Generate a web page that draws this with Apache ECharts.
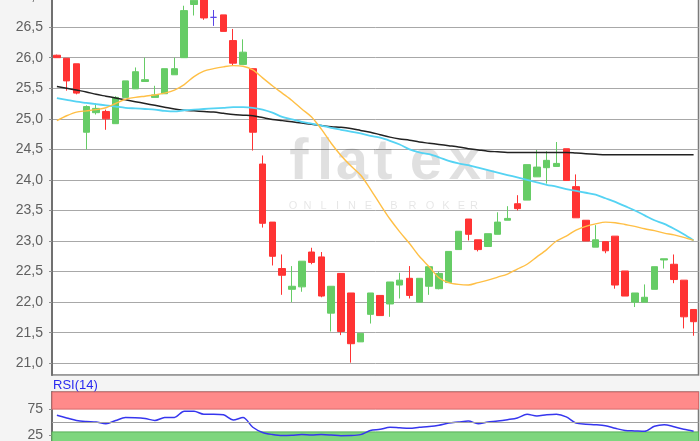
<!DOCTYPE html>
<html><head><meta charset="utf-8">
<script src="https://cdn.jsdelivr.net/npm/echarts@6/dist/echarts.min.js"></script>
<style>html,body{margin:0;padding:0;background:#f4f4f4}#c{width:700px;height:441px}</style>
</head><body><div id="c"></div>
<script>
const categories = ['1','2','3','4','5','6','7','8','9','10','11','12','13','14','15','16','17','18','19','20','21','22','23','24','25','26','27','28','29','30','31','32','33','34','35','36','37','38','39','40','41','42','43','44','45','46','47','48','49','50','51','52','53','54','55','56','57','58','59','60','61','62','63','64','65','66'];
const opens  = [26.04,25.99,25.90,24.78,25.10,25.12,24.92,25.35,25.49,25.61,25.35,25.41,25.72,26.00,26.87,27.10,26.66,26.70,26.28,25.89,25.82,24.26,23.31,22.55,22.21,22.25,22.82,22.74,21.82,22.47,22.15,21.35,21.80,22.11,21.97,22.28,22.39,22.00,22.26,22.22,22.32,22.86,23.36,23.02,22.91,23.11,23.34,23.61,23.67,24.05,24.20,24.22,24.51,23.89,23.34,22.90,22.99,23.08,22.51,22.00,22.00,22.21,22.69,22.62,22.36,21.88];
const closes = [26.00,25.62,25.42,25.20,25.17,25.00,25.35,25.62,25.77,25.64,25.39,25.82,25.82,26.77,26.94,26.65,26.66,26.43,25.91,26.09,24.78,23.29,22.75,22.44,22.26,22.67,22.65,22.10,22.26,21.52,21.32,21.49,22.15,21.78,22.33,22.36,22.11,22.39,22.58,22.47,22.83,23.16,23.11,22.86,23.12,23.31,23.37,23.53,24.25,24.21,24.32,24.27,23.99,23.38,23.00,23.02,22.84,22.28,22.10,22.15,22.08,22.58,22.71,22.37,21.76,21.68];
const lows   = [26.00,25.46,25.40,24.50,25.07,24.82,24.92,25.35,25.49,25.61,25.35,25.41,25.72,26.00,26.69,26.62,26.52,26.43,25.87,25.89,24.48,23.22,22.60,22.12,22.00,22.17,22.62,22.08,21.52,21.46,21.01,21.35,21.65,21.78,21.76,22.06,22.06,22.00,22.12,22.21,22.32,22.86,23.01,22.83,22.91,23.11,23.34,23.50,23.67,24.05,23.94,24.22,23.99,23.38,23.00,22.90,22.80,22.22,22.10,21.92,22.00,22.21,22.55,22.31,21.57,21.45];
const highs  = [26.05,25.99,25.90,25.22,25.25,25.15,25.37,25.62,25.84,26.00,25.54,25.82,26.00,26.85,27.02,27.15,26.78,26.70,26.47,26.30,25.82,24.40,23.31,22.78,22.59,22.67,22.89,22.82,22.26,22.47,22.15,21.49,22.15,22.11,22.33,22.48,22.59,22.39,22.58,22.50,22.83,23.16,23.36,23.02,23.12,23.47,23.57,23.75,24.25,24.49,24.47,24.62,24.51,24.09,23.34,23.26,22.99,23.08,22.51,22.15,22.29,22.58,22.71,22.78,22.36,21.88];
const maShort = [24.97,25.05,25.11,25.13,25.15,25.18,25.25,25.32,25.35,25.37,25.39,25.42,25.47,25.56,25.69,25.78,25.82,25.85,25.87,25.86,25.80,25.67,25.54,25.42,25.30,25.16,25.03,24.83,24.60,24.40,24.23,24.08,23.85,23.60,23.36,23.15,22.96,22.75,22.58,22.40,22.32,22.29,22.28,22.32,22.36,22.41,22.46,22.54,22.62,22.74,22.86,23.00,23.08,23.18,23.24,23.28,23.31,23.30,23.27,23.24,23.20,23.17,23.13,23.10,23.06,23.01];
const maMid = [25.34,25.31,25.28,25.26,25.24,25.22,25.20,25.18,25.17,25.16,25.15,25.13,25.12,25.14,25.15,25.16,25.17,25.18,25.19,25.19,25.18,25.15,25.10,25.03,24.99,24.95,24.92,24.89,24.85,24.82,24.79,24.76,24.72,24.69,24.64,24.58,24.50,24.45,24.42,24.37,24.31,24.27,24.24,24.20,24.16,24.12,24.08,24.04,24.00,23.96,23.92,23.89,23.85,23.82,23.79,23.76,23.70,23.64,23.57,23.50,23.42,23.34,23.28,23.20,23.11,23.01];
const maLong = [25.53,25.50,25.47,25.44,25.40,25.37,25.34,25.31,25.28,25.25,25.22,25.19,25.16,25.14,25.13,25.12,25.11,25.09,25.07,25.06,25.05,25.02,24.99,24.97,24.95,24.93,24.91,24.89,24.87,24.86,24.84,24.81,24.78,24.74,24.70,24.67,24.65,24.62,24.60,24.58,24.56,24.54,24.51,24.49,24.47,24.46,24.45,24.45,24.45,24.45,24.45,24.45,24.45,24.44,24.43,24.42,24.41,24.41,24.41,24.41,24.41,24.41,24.41,24.41,24.41,24.41];
const rsiValues = [63,58,53,51,50,47,53,58.7,58.5,57,53,58.7,59,71,71,65,65,64,54,58.7,40,30,26,24,24.5,25.8,25,25.8,25,23.8,24,25.8,33.7,36,40,39,38.2,40,41.5,44,48,50,52,47,50,52,54.7,58,65,61.8,64,65,60,48,46,45,43,38,33.7,33,32.3,42,45,41,36,32.3];
const rsiLabelValues = [25, 75];
const rsiOverbought = 75, rsiOversold = 31, rsiMid = 50;

const candleData = categories.map((c, i) => {
  const v = [opens[i], closes[i], lows[i], highs[i]];
  if (opens[i] === closes[i]) {
    const d = '#5a46e6';
    return { value: v, itemStyle: { color: d, color0: d, borderColor: d, borderColor0: d, borderColorDoji: d } };
  }
  return v;
});

const chart = echarts.init(document.getElementById('c'), null, { renderer: 'canvas' });
const labelFont = { fontFamily: 'Liberation Sans, Arial, sans-serif', fontSize: 14, color: '#606060' };

const wmLetters = [['f',299],['l',325],['a',352],['t',383],['e',426],['x',465],['.',490]];
const wmSub = [['O',293],['N',307.5],['L',323.5],['I',337.5],['N',352],['E',368.5],['B',394],['R',412.5],['O',430],['K',446],['E',461.5],['R',474]];
const graphics = [];
wmLetters.forEach(([t, x]) => graphics.push({ type: 'text', z: 1, silent: true,
  style: { text: t, x: x, y: 163, textAlign: 'center', textVerticalAlign: 'middle', fill: 'rgba(0,0,0,0.12)', font: 'bold 58px "Liberation Sans", Arial, sans-serif' } }));
wmSub.forEach(([t, x]) => graphics.push({ type: 'text', z: 1, silent: true,
  style: { text: t, x: x, y: 206, textAlign: 'center', textVerticalAlign: 'middle', fill: 'rgba(0,0,0,0.10)', font: '11px "Liberation Sans", Arial, sans-serif' } }));
graphics.push({ type: 'text', left: 53, top: 379, silent: true,
  style: { text: 'RSI(14)', fill: '#2a2af0', font: '13px "Liberation Sans", Arial, sans-serif' } });

chart.setOption({
  animation: false,
  backgroundColor: '#f4f4f4',
  graphic: graphics,
  grid: [
    { left: 52, right: 1.5, top: -34, bottom: 66, outerBoundsMode: 'none', containLabel: false, show: true, backgroundColor: '#ffffff', borderColor: '#7a7a7a', borderWidth: 1.5 },
    { left: 52, right: 1.5, top: 392, bottom: -7, outerBoundsMode: 'none', containLabel: false, show: true, backgroundColor: '#ffffff', borderColor: '#7a7a7a', borderWidth: 1.5 }
  ],
  xAxis: [
    { type: 'category', gridIndex: 0, data: categories, boundaryGap: true, show: false },
    { type: 'category', gridIndex: 1, data: categories, boundaryGap: true, show: false }
  ],
  yAxis: [
    { type: 'value', gridIndex: 0, min: 20.808, max: 27.5, splitNumber: 13, minInterval: 0.5, maxInterval: 0.5,
      axisLine: { show: true, lineStyle: { color: '#707070', width: 2 } },
      axisTick: { show: true, length: 3, lineStyle: { color: '#909090' } },
      splitLine: { show: true, lineStyle: { color: '#a8a8a8', width: 1 } },
      axisLabel: Object.assign({ margin: 9, showMinLabel: false, hideOverlap: false,
        formatter: v => (Math.abs(v * 2 - Math.round(v * 2)) < 1e-6) ? v.toFixed(1).replace('.', ',') : '' }, labelFont)
    },
    { type: 'value', gridIndex: 1, min: 0, max: 108, interval: 25,
      axisLine: { show: true, lineStyle: { color: '#707070', width: 2 } },
      axisTick: { show: true, length: 3, customValues: rsiLabelValues, lineStyle: { color: '#909090' } },
      splitLine: { show: false },
      axisLabel: Object.assign({ margin: 9, customValues: rsiLabelValues, hideOverlap: false,
        formatter: v => rsiLabelValues.indexOf(v) >= 0 ? String(v) : '' }, labelFont)
    }
  ],
  series: [
    { type: 'candlestick', xAxisIndex: 0, yAxisIndex: 0, data: candleData, barWidth: 7,
      itemStyle: { color: '#66cc66', color0: '#ff3333', borderColor: '#66cc66', borderColor0: '#ff3333', borderWidth: 1 } },
    { type: 'line', xAxisIndex: 0, yAxisIndex: 0, data: maLong, showSymbol: false, smooth: 0.3,
      lineStyle: { color: '#222222', width: 1.5 } },
    { type: 'line', xAxisIndex: 0, yAxisIndex: 0, data: maMid, showSymbol: false, smooth: 0.3,
      lineStyle: { color: '#55d3f3', width: 1.8 } },
    { type: 'line', xAxisIndex: 0, yAxisIndex: 0, data: maShort, showSymbol: false, smooth: 0.3,
      lineStyle: { color: '#ffbf45', width: 1.4 } },
    { type: 'line', xAxisIndex: 1, yAxisIndex: 1, data: rsiValues, showSymbol: false, smooth: 0.3,
      lineStyle: { color: '#3636ee', width: 1.5 },
      markArea: { silent: true, data: [
        [{ yAxis: rsiOverbought, itemStyle: { color: '#ff8a8a', borderColor: '#d86a6a', borderWidth: 1 } }, { yAxis: 108 }],
        [{ yAxis: 0, itemStyle: { color: '#7ed67e', borderColor: '#58b058', borderWidth: 1 } }, { yAxis: rsiOversold }]
      ] },
      markLine: { silent: true, symbol: 'none', label: { show: false },
        lineStyle: { color: '#a0a0a0', width: 1, type: 'solid' }, data: [{ yAxis: rsiMid }] }
    }
  ]
});
</script></body></html>
